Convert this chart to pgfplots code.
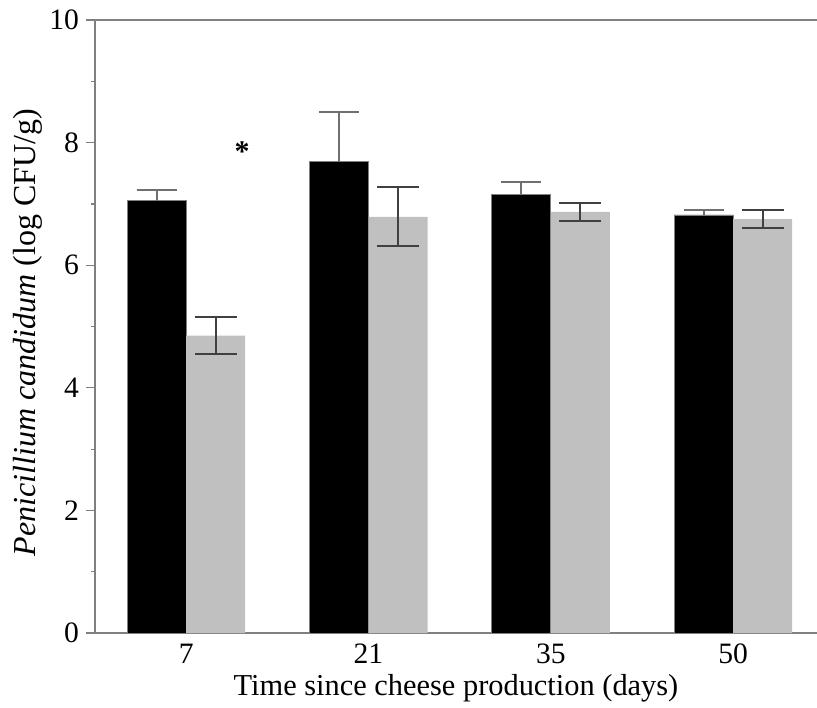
\documentclass[border=0pt]{standalone}
\usepackage{fontspec}
\setmainfont{Liberation Serif}
\usepackage{pgfplots}
\pgfplotsset{compat=1.18}
\definecolor{axgray}{HTML}{808080}
\definecolor{bargray}{HTML}{C0C0C0}
\definecolor{errA}{HTML}{707070}
\definecolor{errB}{HTML}{404040}
\begin{document}
\fontsize{14.5pt}{17pt}\selectfont
\begin{tikzpicture}
\begin{axis}[
  scale only axis,
  width=361pt, height=306.5pt,
  xmin=-0.5, xmax=3.46,
  ymin=0, ymax=10,
  axis x line*=box,
  axis y line*=left,
  axis line style={-, draw=axgray, line width=0.6pt},
  xtick={0,1,2,3},
  xticklabels={7,21,35,50},
  x tick style={draw=none},
  ytick={0,2,4,6,8,10},
  minor ytick={1,3,5,7,9},
  y tick style={draw=axgray, line width=0.6pt},
  tick align=outside,
  ytick pos=left,
  major tick length=4.5pt,
  minor tick length=2pt,
  /pgf/number format/assume math mode=true,
  tick label style={font=\fontsize{14.8pt}{17pt}\selectfont},
  yticklabel style={xshift=1.5pt},
  xticklabel style={yshift=4pt},
  label style={font=\fontsize{15.2pt}{18pt}\selectfont},
  xlabel={Time since cheese production (days)},
  ylabel={\textit{Penicillium candidum} (log CFU/g)},
  xlabel style={at={(axis description cs:0.5,0)}, anchor=center, yshift=-27.5pt},
  ylabel style={at={(axis description cs:-0.0928,0.49)}, anchor=center, font=\fontsize{16pt}{18pt}\selectfont},
  clip=false,
]
\addplot[ybar, bar width=29.5pt, bar shift=0pt, fill=black, draw=axgray, line width=0.4pt,
  error bars/.cd, y dir=plus, y explicit,
  error bar style={draw=errA, line width=1pt},
  error mark options={rotate=90, mark size=10pt, draw=errA, line width=1pt}]
  table[x=x, y=y, y error plus=ep] {
x y ep
-0.162 7.05 0.18
0.838 7.69 0.81
1.838 7.16 0.19
2.838 6.82 0.08
};
\addplot[ybar, bar width=29.5pt, bar shift=0pt, fill=bargray, draw=none,
  error bars/.cd, y dir=both, y explicit,
  error bar style={draw=errB, line width=1pt},
  error mark options={rotate=90, mark size=10.5pt, draw=errB, line width=1pt}]
  table[x=x, y=y, y error plus=e, y error minus=e] {
x y e
0.162 4.85 0.30
1.162 6.79 0.48
2.162 6.87 0.145
3.162 6.75 0.15
};
\node[font=\fontsize{15pt}{17pt}\selectfont\bfseries] at (axis cs:0.307,7.86) {*};
\end{axis}
\pgfresetboundingbox
\path (current axis.south west) ++(-47.5pt,-37pt) coordinate (bbsw);
\path (current axis.north east) ++(0pt,10pt) coordinate (bbne);
\useasboundingbox (bbsw) rectangle (bbne);
\end{tikzpicture}
\end{document}
